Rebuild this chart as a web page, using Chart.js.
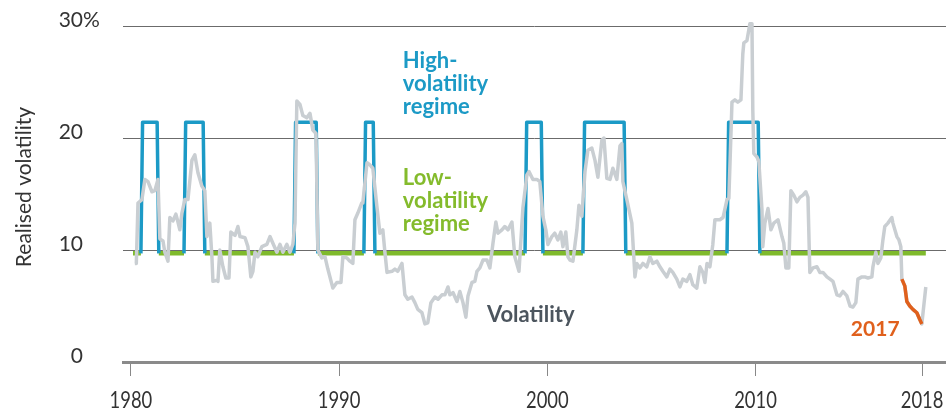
<!DOCTYPE html>
<html>
<head>
<meta charset="utf-8">
<title>Realised volatility</title>
<script src="https://cdn.jsdelivr.net/npm/chart.js@4/dist/chart.umd.min.js"></script>
<style>
  html, body { margin: 0; padding: 0; background: #fff; }
  #wrap { width: 946px; height: 411px; position: relative; }
</style>
</head>
<body>
<div id="wrap"><canvas id="volChart"></canvas></div>
<script>
// Volatility (monthly points)
const volYears = [
  1980.19, 1980.26, 1980.34, 1980.53, 1980.67, 1980.82, 1981.01, 1981.15, 1981.30, 1981.39,
  1981.54, 1981.63, 1981.78, 1981.87, 1982.02, 1982.16, 1982.26, 1982.35, 1982.45, 1982.59,
  1982.74, 1982.93, 1983.07, 1983.22, 1983.41, 1983.55, 1983.65, 1983.79, 1983.89, 1983.94,
  1984.13, 1984.18, 1984.27, 1984.42, 1984.56, 1984.71, 1984.80, 1985.00, 1985.14, 1985.24,
  1985.48, 1985.62, 1985.76, 1985.86, 1985.96, 1986.10, 1986.29, 1986.53, 1986.68, 1986.82,
  1987.01, 1987.16, 1987.30, 1987.49, 1987.64, 1987.78, 1987.88, 1987.97, 1988.12, 1988.26,
  1988.45, 1988.60, 1988.74, 1988.89, 1988.98, 1989.17, 1989.32, 1989.46, 1989.70, 1989.89,
  1990.09, 1990.18, 1990.37, 1990.52, 1990.66, 1990.76, 1990.90, 1991.09, 1991.14, 1991.34,
  1991.48, 1991.62, 1991.82, 1991.96, 1992.10, 1992.20, 1992.30, 1992.54, 1992.68, 1992.82,
  1993.02, 1993.16, 1993.30, 1993.50, 1993.64, 1993.78, 1993.98, 1994.12, 1994.26, 1994.41,
  1994.60, 1994.75, 1994.94, 1995.08, 1995.23, 1995.32, 1995.47, 1995.66, 1995.80, 1995.95,
  1996.09, 1996.19, 1996.38, 1996.52, 1996.62, 1996.76, 1996.91, 1997.10, 1997.24, 1997.39,
  1997.53, 1997.63, 1997.82, 1997.96, 1998.11, 1998.30, 1998.44, 1998.64, 1998.83, 1999.02,
  1999.12, 1999.31, 1999.50, 1999.64, 1999.79, 1999.93, 2000.03, 2000.22, 2000.36, 2000.51,
  2000.65, 2000.75, 2000.89, 2000.99, 2001.09, 2001.23, 2001.42, 2001.52, 2001.66, 2001.81,
  2001.95, 2002.14, 2002.29, 2002.43, 2002.62, 2002.72, 2002.86, 2003.01, 2003.15, 2003.34,
  2003.49, 2003.58, 2003.63, 2003.82, 2004.06, 2004.21, 2004.30, 2004.45, 2004.59, 2004.78,
  2004.93, 2005.07, 2005.26, 2005.41, 2005.55, 2005.74, 2005.89, 2006.03, 2006.22, 2006.37,
  2006.51, 2006.70, 2006.85, 2006.99, 2007.18, 2007.33, 2007.47, 2007.57, 2007.67, 2007.81,
  2007.95, 2008.05, 2008.29, 2008.44, 2008.63, 2008.72, 2008.87, 2009.01, 2009.15, 2009.30,
  2009.39, 2009.44, 2009.59, 2009.73, 2009.83, 2009.87, 2009.92, 2010.07, 2010.16, 2010.31,
  2010.35, 2010.45, 2010.60, 2010.74, 2010.88, 2011.08, 2011.27, 2011.36, 2011.46, 2011.60,
  2011.70, 2011.84, 2011.99, 2012.13, 2012.28, 2012.42, 2012.52, 2012.61, 2012.76, 2012.95,
  2013.09, 2013.24, 2013.43, 2013.58, 2013.72, 2013.91, 2014.05, 2014.20, 2014.39, 2014.54,
  2014.68, 2014.82, 2014.92, 2015.11, 2015.25, 2015.40, 2015.59, 2015.64, 2015.78, 2015.88,
  2016.02, 2016.12, 2016.21, 2016.36, 2016.55, 2016.60, 2016.79, 2016.89, 2016.98, 2017.03,
  2017.17, 2017.27, 2017.41, 2017.56, 2017.75, 2017.89, 2017.99, 2018.18
];
const volValues = [
  8.8, 8.8, 14.2, 14.5, 16.3, 16.1, 15.2, 15.3, 16.3, 11.0,
  10.8, 9.8, 9.0, 12.9, 12.6, 13.2, 12.5, 11.8, 13.3, 14.5,
  14.5, 18.0, 18.5, 16.9, 15.7, 15.3, 11.2, 12.4, 9.4, 7.2,
  7.3, 7.2, 10.0, 8.5, 7.5, 7.5, 11.6, 11.3, 12.1, 11.2,
  11.1, 10.3, 7.6, 8.1, 9.8, 9.4, 10.3, 10.5, 11.2, 10.6,
  9.8, 10.5, 9.8, 10.5, 9.8, 10.5, 12.4, 23.3, 23.0, 22.0,
  21.8, 22.2, 20.7, 20.4, 10.0, 9.3, 9.4, 8.3, 6.6, 7.1,
  7.1, 9.4, 9.3, 9.0, 8.8, 12.7, 13.3, 14.2, 14.2, 17.8,
  17.6, 17.3, 13.8, 11.5, 11.8, 9.8, 8.0, 8.1, 8.3, 8.1,
  8.8, 6.0, 5.6, 5.8, 5.3, 4.7, 4.4, 3.4, 3.5, 5.3,
  5.8, 5.6, 6.0, 6.0, 6.7, 6.0, 6.2, 5.4, 6.3, 5.3,
  4.0, 5.9, 7.1, 7.2, 8.1, 8.4, 9.1, 9.1, 8.4, 10.6,
  12.5, 11.5, 11.8, 12.1, 11.8, 12.5, 9.4, 8.1, 13.8, 16.7,
  17.0, 16.3, 16.3, 16.1, 13.0, 11.8, 10.5, 11.2, 11.5, 10.9,
  11.6, 10.3, 11.6, 9.4, 9.1, 9.0, 11.8, 14.0, 13.0, 17.0,
  18.9, 19.1, 18.0, 16.5, 19.8, 20.0, 16.4, 16.3, 17.3, 16.3,
  19.3, 19.5, 16.1, 14.5, 12.4, 7.6, 8.8, 8.4, 8.8, 8.5,
  9.4, 8.8, 9.0, 8.5, 8.1, 7.6, 8.3, 8.0, 7.4, 6.7,
  7.4, 7.2, 7.8, 6.9, 6.6, 8.5, 8.0, 7.1, 8.8, 8.5,
  10.5, 12.7, 12.7, 12.9, 14.5, 14.6, 23.2, 23.4, 23.2, 23.4,
  27.5, 28.5, 28.7, 30.2, 30.2, 22.5, 18.6, 18.3, 17.9, 13.6,
  10.3, 12.4, 13.7, 11.8, 12.4, 12.7, 11.2, 10.6, 8.4, 8.4,
  15.3, 14.9, 14.3, 14.7, 14.9, 15.2, 14.7, 8.0, 8.4, 8.5,
  8.0, 8.0, 7.6, 7.4, 7.2, 6.0, 5.9, 6.3, 5.9, 5.0,
  4.9, 5.3, 7.4, 7.6, 7.6, 7.5, 7.6, 8.5, 9.8, 8.8,
  9.3, 10.9, 12.1, 12.4, 12.9, 12.4, 11.2, 10.9, 10.3, 7.4,
  6.8, 5.4, 5.0, 4.7, 4.4, 3.8, 3.4, 6.7
];

// 2017 stretch, highlighted in orange
const years2017 = [2017.03, 2017.17, 2017.27, 2017.41, 2017.56, 2017.75, 2017.89, 2017.99];
const values2017 = [7.4, 6.8, 5.4, 5.0, 4.7, 4.4, 3.8, 3.4];

// Regimes: high-volatility periods, everything else is low
const highStarts = [1980.48, 1982.55, 1987.83, 1991.19, 1998.93, 2001.71, 2008.63];
const highEnds = [1981.34, 1983.55, 1988.98, 1991.72, 1999.79, 2003.77, 2010.21];
const regimeHigh = 21.4;
const regimeLow = 9.7;
const regimeFirst = 1980.1;
const regimeLast = 2018.18;

// Axis ticks
const xTickYears = [1980, 1990, 2000, 2010, 2018];
const yTickValues = [0, 10, 20, 30];

// Build the series for the chart
const volData = volYears.map((yr, i) => ({ x: yr, y: volValues[i] }));
const data2017 = years2017.map((yr, i) => ({ x: yr, y: values2017[i] }));

const highData = [];
const lowData = [{ x: regimeFirst, y: regimeLow }];
highStarts.forEach((s, i) => {
    const e = highEnds[i];
    highData.push({ x: s, y: regimeLow }, { x: s + 0.08, y: regimeHigh },
        { x: e - 0.08, y: regimeHigh }, { x: e, y: regimeLow }, { x: e, y: null });
    lowData.push({ x: s, y: regimeLow }, { x: s, y: null }, { x: e, y: regimeLow });
});
lowData.push({ x: regimeLast, y: regimeLow });

// Texts drawn on top of the chart
const textPlugin = {
    id: 'texts',
    afterDraw(chart) {
        const { ctx, scales: { x, y } } = chart;
        ctx.save();
        ctx.textBaseline = 'middle';

        // y tick labels
        ctx.font = '21px Lato';
        ctx.fillStyle = '#333';
        const labelRight = chart.chartArea.left - 40;
        yTickValues.forEach(v => {
            const py = y.getPixelForValue(v) - 6;
            ctx.textAlign = 'right';
            ctx.fillText(String(v), labelRight, py);
            if (v === 30) {
                ctx.textAlign = 'left';
                ctx.fillText('%', labelRight, py);
            }
        });

        // x tick labels, narrow
        ctx.font = '23px Lato';
        ctx.textAlign = 'center';
        xTickYears.forEach(v => {
            ctx.save();
            ctx.translate(x.getPixelForValue(v), 401);
            ctx.scale(0.8, 1);
            ctx.fillText(String(v), 0, 0);
            ctx.restore();
        });

        // y title
        ctx.save();
        ctx.translate(24, 187);
        ctx.rotate(-Math.PI / 2);
        ctx.font = '21px Lato';
        ctx.fillText('Realised volatility', 0, 0);
        ctx.restore();

        // annotations
        ctx.textAlign = 'left';
        ctx.font = 'bold 22px Lato';
        const note = (lines, yr, val, color) => {
            ctx.fillStyle = color;
            const px = x.getPixelForValue(yr);
            const py = y.getPixelForValue(val);
            lines.forEach((t, i) => ctx.fillText(t, px, py + i * 23));
        };
        note(['High-', 'volatility', 'regime'], 1993.06, 26.9, '#1c9ac6');
        note(['Low-', 'volatility', 'regime'], 1993.06, 16.4, '#84bb2c');
        note(['Volatility'], 1997.1, 4.2, '#4c555e');
        ctx.font = 'bold 21px Lato';
        note(['2017'], 2014.58, 2.9, '#e0601c');
        ctx.restore();
    }
};

const ctx = document.getElementById('volChart').getContext('2d');

new Chart(ctx, {
    type: 'line',
    data: {
        datasets: [
            {
                label: '2017',
                data: data2017,
                borderColor: '#e0601c',
                borderWidth: 3.5,
                order: 0
            },
            {
                label: 'Volatility',
                data: volData,
                borderColor: '#c9ced2',
                borderWidth: 3.5,
                clip: false,
                order: 1
            },
            {
                label: 'High-volatility regime',
                data: highData,
                borderColor: '#1c9ac6',
                borderWidth: 3.5,
                spanGaps: false,
                order: 2
            },
            {
                label: 'Low-volatility regime',
                data: lowData,
                borderColor: '#7fba2c',
                borderWidth: 4.5,
                spanGaps: false,
                order: 3
            }
        ]
    },
    options: {
        responsive: true,
        maintainAspectRatio: false,
        animation: false,
        layout: { padding: { top: 26, right: 0, bottom: 0, left: 0 } },
        elements: {
            point: { radius: 0 },
            line: { tension: 0, borderJoinStyle: 'round', borderCapStyle: 'butt' }
        },
        plugins: {
            legend: { display: false },
            tooltip: { enabled: false }
        },
        scales: {
            x: {
                type: 'linear',
                min: 1979.62,
                max: 2019.15,
                afterBuildTicks: scale => {
                    scale.ticks = xTickYears.map(v => ({ value: v }));
                },
                afterFit: scale => { scale.height = 49; },
                ticks: { display: false },
                grid: {
                    drawOnChartArea: false,
                    drawTicks: true,
                    tickLength: 14,
                    tickColor: '#888',
                    tickWidth: 1
                },
                border: { display: true, color: '#8a8a8a', width: 3 }
            },
            y: {
                min: 0,
                max: 30,
                afterBuildTicks: scale => {
                    scale.ticks = yTickValues.map(v => ({ value: v }));
                },
                afterFit: scale => { scale.width = 123; },
                ticks: { display: false },
                grid: {
                    drawTicks: false,
                    lineWidth: 1,
                    color: c => (c.tick && c.tick.value === 0 ? 'rgba(0,0,0,0)' : '#6b6b6b')
                },
                border: { display: false }
            }
        }
    },
    plugins: [textPlugin]
});
</script>
</body>
</html>
